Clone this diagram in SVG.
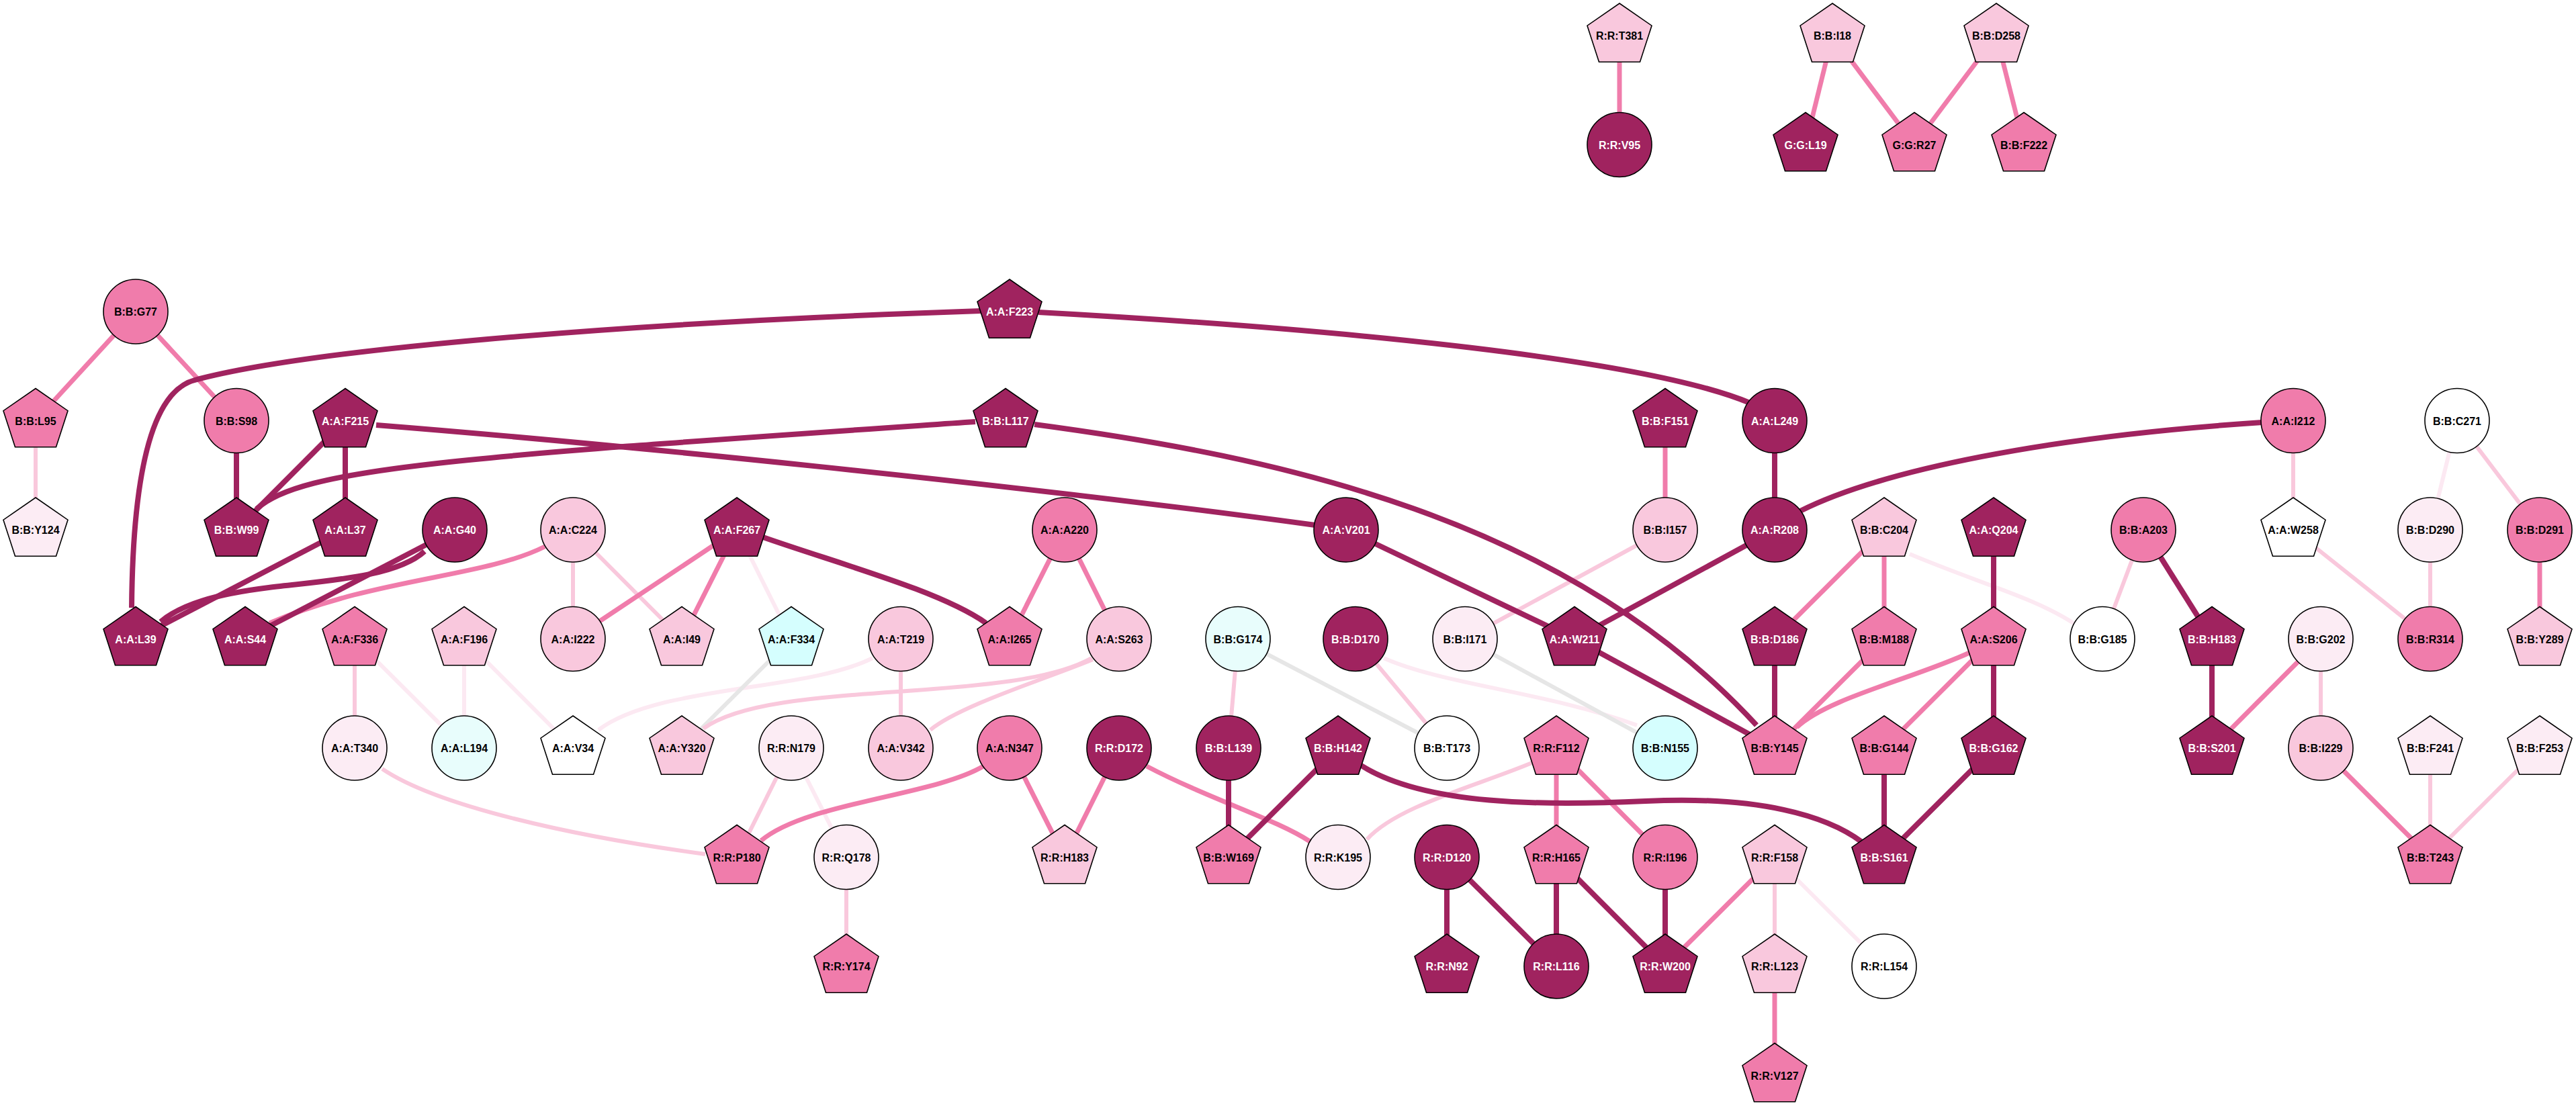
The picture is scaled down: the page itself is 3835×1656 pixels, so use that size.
<svg xmlns="http://www.w3.org/2000/svg" xmlns:xlink="http://www.w3.org/1999/xlink" width="3835" height="1656" viewBox="0 0 3835 1656">
<style>
.e{fill:none;stroke-linecap:butt}
.ed{stroke:#a0235f;stroke-width:8}
.em{stroke:#f07cab;stroke-width:7}
.el{stroke:#f9c8dc;stroke-width:6}
.ev{stroke:#fce9f2;stroke-width:6}
.eg{stroke:#e6e6e6;stroke-width:6}
.n circle,.n use{stroke:#000;stroke-width:1.6}
.d{fill:#a0235f}.m{fill:#f07cab}.l{fill:#f9c8dd}.v{fill:#fcecf4}.w{fill:#ffffff}.c{fill:#d5fefe}.lc{fill:#e8fdfc}
text{font-family:"Liberation Sans",Arial,Helvetica,sans-serif;font-weight:bold;font-size:16px;text-anchor:middle;fill:#000}
text.tw{fill:#fff}
</style>
<defs>
<polygon id="pent" points="0,-48 48,-14.8 30.5,39.2 -30.5,39.2 -48,-14.8"/>
</defs>
<rect width="3835" height="1656" fill="#fff"/>
<g id="edges">
<line class="e em" x1="2411" y1="53" x2="2411" y2="215.5"/>
<line class="e em" x1="2728" y1="53" x2="2688" y2="215.5"/>
<line class="e em" x1="2728" y1="53" x2="2850" y2="215.5"/>
<line class="e em" x1="2972" y1="53" x2="2850" y2="215.5"/>
<line class="e em" x1="2972" y1="53" x2="3013" y2="215.5"/>
<line class="e em" x1="202" y1="464" x2="53" y2="626.5"/>
<line class="e em" x1="202" y1="464" x2="352" y2="626.5"/>
<line class="e el" x1="53" y1="626.5" x2="53" y2="789"/>
<line class="e el" x1="853" y1="789" x2="853" y2="951.5"/>
<line class="e el" x1="853" y1="789" x2="1015" y2="951.5"/>
<line class="e ev" x1="1097" y1="789" x2="1178" y2="951.5"/>
<line class="e el" x1="528" y1="951.5" x2="528" y2="1114"/>
<line class="e ev" x1="528" y1="951.5" x2="691" y2="1114"/>
<line class="e ev" x1="691" y1="951.5" x2="691" y2="1114"/>
<line class="e ev" x1="691" y1="951.5" x2="853" y2="1114"/>
<path class="e ev" d="M1299,980 C1200,1030 980,1020 891,1087"/>
<line class="e eg" x1="1178" y1="951.5" x2="1015" y2="1114"/>
<path class="e el" d="M1625,980 C1500,1050 1150,1010 1047,1085"/>
<path class="e el" d="M1627,982 C1560,1010 1430,1050 1385,1087"/>
<line class="e el" x1="1341" y1="951.5" x2="1341" y2="1114"/>
<path class="e el" d="M569,1145 C650,1200 850,1245 1050,1272"/>
<line class="e el" x1="1178" y1="1114" x2="1097" y2="1276.5"/>
<line class="e ev" x1="1178" y1="1114" x2="1260" y2="1276.5"/>
<line class="e el" x1="1260" y1="1276.5" x2="1260" y2="1439"/>
<line class="e el" x1="1843" y1="951.5" x2="1829" y2="1114"/>
<line class="e eg" x1="1843" y1="951.5" x2="2154" y2="1114"/>
<line class="e el" x1="2018" y1="951.5" x2="2154" y2="1114"/>
<path class="e ev" d="M2060,980 C2150,1020 2300,1030 2437,1080"/>
<line class="e eg" x1="2181" y1="951.5" x2="2479" y2="1114"/>
<line class="e el" x1="2479" y1="789" x2="2181" y2="951.5"/>
<path class="e el" d="M2283,1135 C2200,1170 2080,1200 2035,1250"/>
<line class="e el" x1="2642" y1="1276.5" x2="2642" y2="1439"/>
<line class="e ev" x1="2642" y1="1276.5" x2="2805" y2="1439"/>
<path class="e ev" d="M2843,825 C2950,870 3030,890 3090,930"/>
<line class="e el" x1="3191" y1="789" x2="3130" y2="951.5"/>
<line class="e el" x1="3455" y1="951.5" x2="3455" y2="1114"/>
<line class="e el" x1="3414" y1="626.5" x2="3414" y2="789"/>
<line class="e el" x1="3414" y1="789" x2="3618" y2="951.5"/>
<line class="e ev" x1="3658" y1="626.5" x2="3618" y2="789"/>
<line class="e el" x1="3658" y1="626.5" x2="3781" y2="789"/>
<line class="e el" x1="3618" y1="789" x2="3618" y2="951.5"/>
<line class="e el" x1="3618" y1="1114" x2="3618" y2="1276.5"/>
<line class="e el" x1="3781" y1="1114" x2="3618" y2="1276.5"/>
<path class="e em" d="M811,814 C720,860 560,860 401,928"/>
<line class="e em" x1="1097" y1="789" x2="853" y2="951.5"/>
<line class="e em" x1="1097" y1="789" x2="1015" y2="951.5"/>
<line class="e em" x1="1585" y1="789" x2="1503" y2="951.5"/>
<line class="e em" x1="1585" y1="789" x2="1666" y2="951.5"/>
<path class="e em" d="M1464,1141 C1390,1185 1200,1195 1133,1252"/>
<line class="e em" x1="1503" y1="1114" x2="1585" y2="1276.5"/>
<line class="e em" x1="1666" y1="1114" x2="1585" y2="1276.5"/>
<path class="e em" d="M1707,1141 C1800,1190 1900,1220 1950,1253"/>
<line class="e em" x1="2317" y1="1114" x2="2317" y2="1276.5"/>
<line class="e em" x1="2317" y1="1114" x2="2479" y2="1276.5"/>
<line class="e em" x1="2642" y1="1276.5" x2="2479" y2="1439"/>
<line class="e em" x1="2642" y1="1439" x2="2642" y2="1601.5"/>
<line class="e em" x1="2479" y1="626.5" x2="2479" y2="789"/>
<line class="e em" x1="2805" y1="789" x2="2642" y2="951.5"/>
<line class="e em" x1="2805" y1="789" x2="2805" y2="951.5"/>
<line class="e em" x1="2805" y1="951.5" x2="2642" y2="1114"/>
<path class="e em" d="M2932,972 C2850,1010 2720,1040 2675,1083"/>
<line class="e em" x1="2968" y1="951.5" x2="2805" y2="1114"/>
<line class="e em" x1="3455" y1="951.5" x2="3293" y2="1114"/>
<line class="e em" x1="3781" y1="789" x2="3781" y2="951.5"/>
<line class="e em" x1="3455" y1="1114" x2="3618" y2="1276.5"/>
<path class="e ed" d="M1460,463 C1000,478 480,515 290,566 C240,579 198,660 196,905"/>
<path class="e ed" d="M1546,465 C2000,490 2450,535 2605,600"/>
<path class="e ed" d="M560,633 C900,660 1500,720 1958,782"/>
<path class="e ed" d="M382,758 C450,695 700,680 1452,628"/>
<path class="e ed" d="M1540,632 C1900,680 2330,770 2615,1080"/>
<path class="e ed" d="M3368,629 C3050,650 2800,700 2678,762"/>
<path class="e ed" d="M632,821 C590,860 480,865 400,875 C320,885 270,900 239,926"/>
<line class="e ed" x1="352" y1="626.5" x2="352" y2="789"/>
<line class="e ed" x1="514" y1="626.5" x2="352" y2="789"/>
<line class="e ed" x1="514" y1="626.5" x2="514" y2="789"/>
<line class="e ed" x1="514" y1="789" x2="202" y2="951.5"/>
<line class="e ed" x1="677" y1="789" x2="365" y2="951.5"/>
<path class="e ed" d="M1136,800 C1250,840 1400,880 1468,928"/>
<line class="e ed" x1="1829" y1="1114" x2="1829" y2="1276.5"/>
<line class="e ed" x1="1992" y1="1114" x2="1829" y2="1276.5"/>
<path class="e ed" d="M2025,1139 C2120,1200 2300,1200 2450,1193 C2620,1185 2720,1215 2772,1254"/>
<line class="e ed" x1="2154" y1="1276.5" x2="2154" y2="1439"/>
<line class="e ed" x1="2154" y1="1276.5" x2="2317" y2="1439"/>
<line class="e ed" x1="2317" y1="1276.5" x2="2317" y2="1439"/>
<line class="e ed" x1="2317" y1="1276.5" x2="2479" y2="1439"/>
<line class="e ed" x1="2479" y1="1276.5" x2="2479" y2="1439"/>
<line class="e ed" x1="2642" y1="626.5" x2="2642" y2="789"/>
<line class="e ed" x1="2004" y1="789" x2="2344" y2="951.5"/>
<line class="e ed" x1="2642" y1="789" x2="2344" y2="951.5"/>
<line class="e ed" x1="2344" y1="951.5" x2="2642" y2="1114"/>
<line class="e ed" x1="2968" y1="789" x2="2968" y2="951.5"/>
<line class="e ed" x1="2642" y1="951.5" x2="2642" y2="1114"/>
<line class="e ed" x1="2968" y1="951.5" x2="2968" y2="1114"/>
<line class="e ed" x1="2805" y1="1114" x2="2805" y2="1276.5"/>
<line class="e ed" x1="2968" y1="1114" x2="2805" y2="1276.5"/>
<line class="e ed" x1="3191" y1="789" x2="3293" y2="951.5"/>
<line class="e ed" x1="3293" y1="951.5" x2="3293" y2="1114"/>
</g>
<g id="nodes">
<g id="R_R_T381" class="n"><use xlink:href="#pent" x="2411" y="53" class="l"/><text x="2411" y="59">R:R:T381</text></g>
<g id="R_R_V95" class="n"><circle cx="2411" cy="215.5" r="48" class="d"/><text class="tw" x="2411" y="221.5">R:R:V95</text></g>
<g id="B_B_I18" class="n"><use xlink:href="#pent" x="2728" y="53" class="l"/><text x="2728" y="59">B:B:I18</text></g>
<g id="B_B_D258" class="n"><use xlink:href="#pent" x="2972" y="53" class="l"/><text x="2972" y="59">B:B:D258</text></g>
<g id="G_G_L19" class="n"><use xlink:href="#pent" x="2688" y="215.5" class="d"/><text class="tw" x="2688" y="221.5">G:G:L19</text></g>
<g id="G_G_R27" class="n"><use xlink:href="#pent" x="2850" y="215.5" class="m"/><text x="2850" y="221.5">G:G:R27</text></g>
<g id="B_B_F222" class="n"><use xlink:href="#pent" x="3013" y="215.5" class="m"/><text x="3013" y="221.5">B:B:F222</text></g>

<g id="B_B_G77" class="n"><circle cx="202" cy="464" r="48" class="m"/><text x="202" y="470">B:B:G77</text></g>
<g id="A_A_F223" class="n"><use xlink:href="#pent" x="1503" y="464" class="d"/><text class="tw" x="1503" y="470">A:A:F223</text></g>

<g id="B_B_L95" class="n"><use xlink:href="#pent" x="53" y="626.5" class="m"/><text x="53" y="632.5">B:B:L95</text></g>
<g id="B_B_S98" class="n"><circle cx="352" cy="626.5" r="48" class="m"/><text x="352" y="632.5">B:B:S98</text></g>
<g id="A_A_F215" class="n"><use xlink:href="#pent" x="514" y="626.5" class="d"/><text class="tw" x="514" y="632.5">A:A:F215</text></g>
<g id="B_B_L117" class="n"><use xlink:href="#pent" x="1497" y="626.5" class="d"/><text class="tw" x="1497" y="632.5">B:B:L117</text></g>
<g id="B_B_F151" class="n"><use xlink:href="#pent" x="2479" y="626.5" class="d"/><text class="tw" x="2479" y="632.5">B:B:F151</text></g>
<g id="A_A_L249" class="n"><circle cx="2642" cy="626.5" r="48" class="d"/><text class="tw" x="2642" y="632.5">A:A:L249</text></g>
<g id="A_A_I212" class="n"><circle cx="3414" cy="626.5" r="48" class="m"/><text x="3414" y="632.5">A:A:I212</text></g>
<g id="B_B_C271" class="n"><circle cx="3658" cy="626.5" r="48" class="w"/><text x="3658" y="632.5">B:B:C271</text></g>

<g id="B_B_Y124" class="n"><use xlink:href="#pent" x="53" y="789" class="v"/><text x="53" y="795">B:B:Y124</text></g>
<g id="B_B_W99" class="n"><use xlink:href="#pent" x="352" y="789" class="d"/><text class="tw" x="352" y="795">B:B:W99</text></g>
<g id="A_A_L37" class="n"><use xlink:href="#pent" x="514" y="789" class="d"/><text class="tw" x="514" y="795">A:A:L37</text></g>
<g id="A_A_G40" class="n"><circle cx="677" cy="789" r="48" class="d"/><text class="tw" x="677" y="795">A:A:G40</text></g>
<g id="A_A_C224" class="n"><circle cx="853" cy="789" r="48" class="l"/><text x="853" y="795">A:A:C224</text></g>
<g id="A_A_F267" class="n"><use xlink:href="#pent" x="1097" y="789" class="d"/><text class="tw" x="1097" y="795">A:A:F267</text></g>
<g id="A_A_A220" class="n"><circle cx="1585" cy="789" r="48" class="m"/><text x="1585" y="795">A:A:A220</text></g>
<g id="A_A_V201" class="n"><circle cx="2004" cy="789" r="48" class="d"/><text class="tw" x="2004" y="795">A:A:V201</text></g>
<g id="B_B_I157" class="n"><circle cx="2479" cy="789" r="48" class="l"/><text x="2479" y="795">B:B:I157</text></g>
<g id="A_A_R208" class="n"><circle cx="2642" cy="789" r="48" class="d"/><text class="tw" x="2642" y="795">A:A:R208</text></g>
<g id="B_B_C204" class="n"><use xlink:href="#pent" x="2805" y="789" class="l"/><text x="2805" y="795">B:B:C204</text></g>
<g id="A_A_Q204" class="n"><use xlink:href="#pent" x="2968" y="789" class="d"/><text class="tw" x="2968" y="795">A:A:Q204</text></g>
<g id="B_B_A203" class="n"><circle cx="3191" cy="789" r="48" class="m"/><text x="3191" y="795">B:B:A203</text></g>
<g id="A_A_W258" class="n"><use xlink:href="#pent" x="3414" y="789" class="w"/><text x="3414" y="795">A:A:W258</text></g>
<g id="B_B_D290" class="n"><circle cx="3618" cy="789" r="48" class="v"/><text x="3618" y="795">B:B:D290</text></g>
<g id="B_B_D291" class="n"><circle cx="3781" cy="789" r="48" class="m"/><text x="3781" y="795">B:B:D291</text></g>

<g id="A_A_L39" class="n"><use xlink:href="#pent" x="202" y="951.5" class="d"/><text class="tw" x="202" y="957.5">A:A:L39</text></g>
<g id="A_A_S44" class="n"><use xlink:href="#pent" x="365" y="951.5" class="d"/><text class="tw" x="365" y="957.5">A:A:S44</text></g>
<g id="A_A_F336" class="n"><use xlink:href="#pent" x="528" y="951.5" class="m"/><text x="528" y="957.5">A:A:F336</text></g>
<g id="A_A_F196" class="n"><use xlink:href="#pent" x="691" y="951.5" class="l"/><text x="691" y="957.5">A:A:F196</text></g>
<g id="A_A_I222" class="n"><circle cx="853" cy="951.5" r="48" class="l"/><text x="853" y="957.5">A:A:I222</text></g>
<g id="A_A_I49" class="n"><use xlink:href="#pent" x="1015" y="951.5" class="l"/><text x="1015" y="957.5">A:A:I49</text></g>
<g id="A_A_F334" class="n"><use xlink:href="#pent" x="1178" y="951.5" class="c"/><text x="1178" y="957.5">A:A:F334</text></g>
<g id="A_A_T219" class="n"><circle cx="1341" cy="951.5" r="48" class="l"/><text x="1341" y="957.5">A:A:T219</text></g>
<g id="A_A_I265" class="n"><use xlink:href="#pent" x="1503" y="951.5" class="m"/><text x="1503" y="957.5">A:A:I265</text></g>
<g id="A_A_S263" class="n"><circle cx="1666" cy="951.5" r="48" class="l"/><text x="1666" y="957.5">A:A:S263</text></g>
<g id="B_B_G174" class="n"><circle cx="1843" cy="951.5" r="48" class="lc"/><text x="1843" y="957.5">B:B:G174</text></g>
<g id="B_B_D170" class="n"><circle cx="2018" cy="951.5" r="48" class="d"/><text class="tw" x="2018" y="957.5">B:B:D170</text></g>
<g id="B_B_I171" class="n"><circle cx="2181" cy="951.5" r="48" class="v"/><text x="2181" y="957.5">B:B:I171</text></g>
<g id="A_A_W211" class="n"><use xlink:href="#pent" x="2344" y="951.5" class="d"/><text class="tw" x="2344" y="957.5">A:A:W211</text></g>
<g id="B_B_D186" class="n"><use xlink:href="#pent" x="2642" y="951.5" class="d"/><text class="tw" x="2642" y="957.5">B:B:D186</text></g>
<g id="B_B_M188" class="n"><use xlink:href="#pent" x="2805" y="951.5" class="m"/><text x="2805" y="957.5">B:B:M188</text></g>
<g id="A_A_S206" class="n"><use xlink:href="#pent" x="2968" y="951.5" class="m"/><text x="2968" y="957.5">A:A:S206</text></g>
<g id="B_B_G185" class="n"><circle cx="3130" cy="951.5" r="48" class="w"/><text x="3130" y="957.5">B:B:G185</text></g>
<g id="B_B_H183" class="n"><use xlink:href="#pent" x="3293" y="951.5" class="d"/><text class="tw" x="3293" y="957.5">B:B:H183</text></g>
<g id="B_B_G202" class="n"><circle cx="3455" cy="951.5" r="48" class="v"/><text x="3455" y="957.5">B:B:G202</text></g>
<g id="B_B_R314" class="n"><circle cx="3618" cy="951.5" r="48" class="m"/><text x="3618" y="957.5">B:B:R314</text></g>
<g id="B_B_Y289" class="n"><use xlink:href="#pent" x="3781" y="951.5" class="l"/><text x="3781" y="957.5">B:B:Y289</text></g>

<g id="A_A_T340" class="n"><circle cx="528" cy="1114" r="48" class="v"/><text x="528" y="1120">A:A:T340</text></g>
<g id="A_A_L194" class="n"><circle cx="691" cy="1114" r="48" class="lc"/><text x="691" y="1120">A:A:L194</text></g>
<g id="A_A_V34" class="n"><use xlink:href="#pent" x="853" y="1114" class="w"/><text x="853" y="1120">A:A:V34</text></g>
<g id="A_A_Y320" class="n"><use xlink:href="#pent" x="1015" y="1114" class="l"/><text x="1015" y="1120">A:A:Y320</text></g>
<g id="R_R_N179" class="n"><circle cx="1178" cy="1114" r="48" class="v"/><text x="1178" y="1120">R:R:N179</text></g>
<g id="A_A_V342" class="n"><circle cx="1341" cy="1114" r="48" class="l"/><text x="1341" y="1120">A:A:V342</text></g>
<g id="A_A_N347" class="n"><circle cx="1503" cy="1114" r="48" class="m"/><text x="1503" y="1120">A:A:N347</text></g>
<g id="R_R_D172" class="n"><circle cx="1666" cy="1114" r="48" class="d"/><text class="tw" x="1666" y="1120">R:R:D172</text></g>
<g id="B_B_L139" class="n"><circle cx="1829" cy="1114" r="48" class="d"/><text class="tw" x="1829" y="1120">B:B:L139</text></g>
<g id="B_B_H142" class="n"><use xlink:href="#pent" x="1992" y="1114" class="d"/><text class="tw" x="1992" y="1120">B:B:H142</text></g>
<g id="B_B_T173" class="n"><circle cx="2154" cy="1114" r="48" class="w"/><text x="2154" y="1120">B:B:T173</text></g>
<g id="R_R_F112" class="n"><use xlink:href="#pent" x="2317" y="1114" class="m"/><text x="2317" y="1120">R:R:F112</text></g>
<g id="B_B_N155" class="n"><circle cx="2479" cy="1114" r="48" class="c"/><text x="2479" y="1120">B:B:N155</text></g>
<g id="B_B_Y145" class="n"><use xlink:href="#pent" x="2642" y="1114" class="m"/><text x="2642" y="1120">B:B:Y145</text></g>
<g id="B_B_G144" class="n"><use xlink:href="#pent" x="2805" y="1114" class="m"/><text x="2805" y="1120">B:B:G144</text></g>
<g id="B_B_G162" class="n"><use xlink:href="#pent" x="2968" y="1114" class="d"/><text class="tw" x="2968" y="1120">B:B:G162</text></g>
<g id="B_B_S201" class="n"><use xlink:href="#pent" x="3293" y="1114" class="d"/><text class="tw" x="3293" y="1120">B:B:S201</text></g>
<g id="B_B_I229" class="n"><circle cx="3455" cy="1114" r="48" class="l"/><text x="3455" y="1120">B:B:I229</text></g>
<g id="B_B_F241" class="n"><use xlink:href="#pent" x="3618" y="1114" class="v"/><text x="3618" y="1120">B:B:F241</text></g>
<g id="B_B_F253" class="n"><use xlink:href="#pent" x="3781" y="1114" class="v"/><text x="3781" y="1120">B:B:F253</text></g>

<g id="R_R_P180" class="n"><use xlink:href="#pent" x="1097" y="1276.5" class="m"/><text x="1097" y="1282.5">R:R:P180</text></g>
<g id="R_R_Q178" class="n"><circle cx="1260" cy="1276.5" r="48" class="v"/><text x="1260" y="1282.5">R:R:Q178</text></g>
<g id="R_R_H183" class="n"><use xlink:href="#pent" x="1585" y="1276.5" class="l"/><text x="1585" y="1282.5">R:R:H183</text></g>
<g id="B_B_W169" class="n"><use xlink:href="#pent" x="1829" y="1276.5" class="m"/><text x="1829" y="1282.5">B:B:W169</text></g>
<g id="R_R_K195" class="n"><circle cx="1992" cy="1276.5" r="48" class="v"/><text x="1992" y="1282.5">R:R:K195</text></g>
<g id="R_R_D120" class="n"><circle cx="2154" cy="1276.5" r="48" class="d"/><text class="tw" x="2154" y="1282.5">R:R:D120</text></g>
<g id="R_R_H165" class="n"><use xlink:href="#pent" x="2317" y="1276.5" class="m"/><text x="2317" y="1282.5">R:R:H165</text></g>
<g id="R_R_I196" class="n"><circle cx="2479" cy="1276.5" r="48" class="m"/><text x="2479" y="1282.5">R:R:I196</text></g>
<g id="R_R_F158" class="n"><use xlink:href="#pent" x="2642" y="1276.5" class="l"/><text x="2642" y="1282.5">R:R:F158</text></g>
<g id="B_B_S161" class="n"><use xlink:href="#pent" x="2805" y="1276.5" class="d"/><text class="tw" x="2805" y="1282.5">B:B:S161</text></g>
<g id="B_B_T243" class="n"><use xlink:href="#pent" x="3618" y="1276.5" class="m"/><text x="3618" y="1282.5">B:B:T243</text></g>

<g id="R_R_Y174" class="n"><use xlink:href="#pent" x="1260" y="1439" class="m"/><text x="1260" y="1445">R:R:Y174</text></g>
<g id="R_R_N92" class="n"><use xlink:href="#pent" x="2154" y="1439" class="d"/><text class="tw" x="2154" y="1445">R:R:N92</text></g>
<g id="R_R_L116" class="n"><circle cx="2317" cy="1439" r="48" class="d"/><text class="tw" x="2317" y="1445">R:R:L116</text></g>
<g id="R_R_W200" class="n"><use xlink:href="#pent" x="2479" y="1439" class="d"/><text class="tw" x="2479" y="1445">R:R:W200</text></g>
<g id="R_R_L123" class="n"><use xlink:href="#pent" x="2642" y="1439" class="l"/><text x="2642" y="1445">R:R:L123</text></g>
<g id="R_R_L154" class="n"><circle cx="2805" cy="1439" r="48" class="w"/><text x="2805" y="1445">R:R:L154</text></g>

<g id="R_R_V127" class="n"><use xlink:href="#pent" x="2642" y="1601.5" class="m"/><text x="2642" y="1607.5">R:R:V127</text></g>
</g>
</svg>
